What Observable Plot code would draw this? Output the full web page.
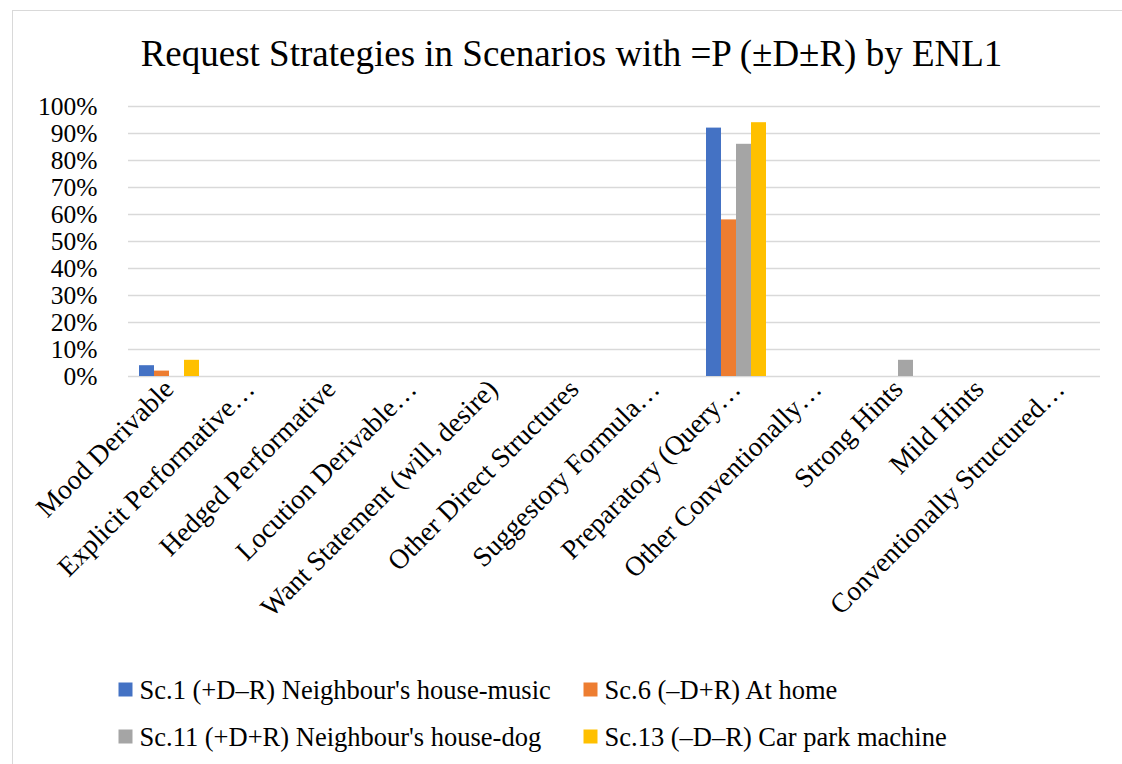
<!DOCTYPE html>
<html>
<head>
<meta charset="utf-8">
<script src="https://cdn.jsdelivr.net/npm/d3@7"></script>
<script src="https://cdn.jsdelivr.net/npm/@observablehq/plot@0.6"></script>
<style>
  html, body { margin: 0; padding: 0; background: #fff; }
  body { width: 1122px; height: 764px; position: relative; overflow: hidden; color: #000; }
  #frame { position: absolute; left: 12px; top: 10px; width: 1120px; height: 760px; border: 1px solid #d9d9d9; box-sizing: border-box; }
  #title { position: absolute; left: 0; top: 0; }
  #chart { position: absolute; left: 0; top: 90px; }
  #legend { position: absolute; left: 0; top: 660px; }
</style>
</head>
<body>
<div id="frame"></div>
<div id="title"></div>
<div id="chart"></div>
<div id="legend"></div>
<script>
const titleText = "Request Strategies in Scenarios with =P (±D±R) by ENL1";
const categories = [
  "Mood Derivable",
  "Explicit Performative…",
  "Hedged Performative",
  "Locution Derivable…",
  "Want Statement (will, desire)",
  "Other Direct Structures",
  "Suggestory Formula…",
  "Preparatory (Query…",
  "Other Conventionally…",
  "Strong Hints",
  "Mild Hints",
  "Conventionally Structured…"
];
const seriesNames = [
  "Sc.1 (+D–R) Neighbour's house-music",
  "Sc.6 (–D+R) At home",
  "Sc.11 (+D+R) Neighbour's house-dog",
  "Sc.13 (–D–R) Car park machine"
];
const seriesColors = ["#4472C4", "#ED7D31", "#A5A5A5", "#FFC000"];
const sc1  = [4, 0, 0, 0, 0, 0, 0, 92, 0, 0, 0, 0];
const sc6  = [2, 0, 0, 0, 0, 0, 0, 58, 0, 0, 0, 0];
const sc11 = [0, 0, 0, 0, 0, 0, 0, 86, 0, 6, 0, 0];
const sc13 = [6, 0, 0, 0, 0, 0, 0, 94, 0, 0, 0, 0];
const yTicks = [0, 0.1, 0.2, 0.3, 0.4, 0.5, 0.6, 0.7, 0.8, 0.9, 1.0];

const allSeries = [sc1, sc6, sc11, sc13];
const data = [];
categories.forEach((c, i) => {
  allSeries.forEach((s, j) => {
    data.push({category: c, series: seriesNames[j], value: s[i] / 100});
  });
});

const serif = "'Liberation Serif', 'Times New Roman', Tinos, serif";
const baseStyle = {fontFamily: serif, color: "#000", background: "transparent", overflow: "visible"};

// Title, drawn above the chart
const titlePlot = Plot.plot({
  width: 1122, height: 90, margin: 0,
  style: {...baseStyle, fontSize: "37px"},
  marks: [
    Plot.text([titleText], {frameAnchor: "top", lineAnchor: "bottom", dx: 10, dy: 65, fontSize: 37, fill: "#000"})
  ]
});
document.getElementById("title").appendChild(titlePlot);

const chart = Plot.plot({
  width: 1122,
  height: 570,
  marginLeft: 123,
  marginRight: 17,
  marginTop: 16,
  marginBottom: 284,
  style: {...baseStyle, fontSize: "25px"},
  fx: {domain: categories, padding: 0, label: null},
  x: {domain: seriesNames, paddingInner: 0, paddingOuter: 0.68, axis: null},
  y: {domain: [0, 1], label: null},
  color: {domain: seriesNames, range: seriesColors},
  marks: [
    Plot.ruleY(yTicks, {stroke: "#d9d9d9", strokeWidth: 1.3}),
    Plot.barY(data, {fx: "category", x: "series", y: "value", fill: "series"}),
    Plot.axisY({ticks: yTicks, tickFormat: d3.format(".0%"), tickSize: 0, tickPadding: 31, fontSize: 25.5, label: null}),
    Plot.axisFx({anchor: "bottom", tickRotate: -45, tickSize: 0, tickPadding: 8, fontSize: 27.5, label: null})
  ]
});
document.getElementById("chart").appendChild(chart);

// Legend, drawn below the chart: 2 columns x 2 rows
const legendItems = seriesNames.map((name, i) => ({name, col: i % 2, row: Math.floor(i / 2)}));
const legendPlot = Plot.plot({
  width: 1122, height: 104, margin: 0,
  style: {...baseStyle, fontSize: "26.5px"},
  x: {type: "linear", domain: [0, 1], range: [118, 583], axis: null},
  y: {type: "linear", domain: [0, 1], range: [38, 85], axis: null},
  color: {domain: seriesNames, range: seriesColors},
  marks: [
    Plot.dot(legendItems, {x: "col", y: "row", symbol: "square", r: 7.9, fill: "name", stroke: null, dx: 7, dy: -9}),
    Plot.text(legendItems, {x: "col", y: "row", text: "name", textAnchor: "start", lineAnchor: "bottom", dx: 21, fontSize: 26.5, fill: "#000"})
  ]
});
document.getElementById("legend").appendChild(legendPlot);
</script>
</body>
</html>
